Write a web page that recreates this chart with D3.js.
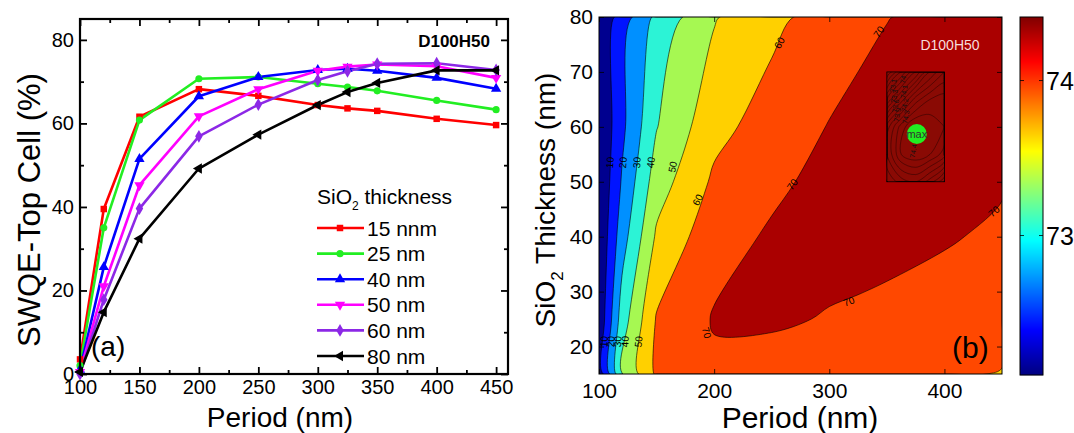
<!DOCTYPE html>
<html>
<head>
<meta charset="utf-8">
<script src="https://cdn.jsdelivr.net/npm/d3@7"></script>
<style>
  body { margin: 0; background: #fff; }
  svg { display: block; font-family: "Liberation Sans", Arial, sans-serif; }
</style>
</head>
<body>
<svg id="fig" width="1074" height="433"></svg>
<script>
// Grating period (nm), shared by both panels
const periods = [100, 120, 150, 200, 250, 300, 325, 350, 400, 450];
// SiO2 thickness of each simulated series (nm)
const thicknesses = [15, 25, 40, 50, 60, 80];
const seriesNames = ["15 nnm", "25 nm", "40 nm", "50 nm", "60 nm", "80 nm"];
// SWQE of the top cell (%), one value per period
const swqe15 = [3.5, 39.5, 61.6, 68.2, 66.6, 64.4, 63.6, 63.0, 61.1, 59.6];
const swqe25 = [2.0, 35.0, 60.8, 70.7, 71.1, 69.5, 68.7, 67.8, 65.5, 63.3];
const swqe40 = [1.0, 25.6, 51.5, 66.5, 71.1, 72.8, 73.1, 72.6, 70.9, 68.3];
const swqe50 = [0.5, 21.0, 45.2, 61.7, 68.2, 72.6, 73.6, 74.1, 73.7, 70.9];
const swqe60 = [0.0, 17.8, 39.6, 56.9, 64.5, 70.4, 72.5, 74.3, 74.4, 72.8];
const swqe80 = [0.5, 14.8, 32.4, 49.2, 57.3, 64.4, 67.5, 69.7, 72.7, 72.7];
const seriesValues = [swqe15, swqe25, swqe40, swqe50, swqe60, swqe80];

// Tick values
const xTicksA = [100, 150, 200, 250, 300, 350, 400, 450];
const yTicksA = [0, 20, 40, 60, 80];
const xTicksB = [100, 200, 300, 400];
const yTicksB = [20, 30, 40, 50, 60, 70, 80];
const colorbarTicks = [73, 74];

// Contour levels of the map
const levels = [10, 20, 30, 40, 50, 60, 70];

// Fine map of the optimum region (period x thickness)
const insetPeriods = [350, 362.5, 375, 387.5, 400];
const insetThicknesses = [50, 55, 60, 65, 70];
const inset50 = [73.80, 73.95, 74.00, 73.85, 73.60];
const inset55 = [74.00, 74.30, 74.38, 74.30, 74.15];
const inset60 = [73.95, 74.25, 74.42, 74.38, 74.30];
const inset65 = [73.40, 73.75, 74.05, 74.20, 74.25];
const inset70 = [72.90, 73.20, 73.50, 73.80, 74.00];
const insetLevels = d3.range(72.9, 74.45, 0.1).map(v => +v.toFixed(2));
const maxPoint = { period: 376, thickness: 58.7 };
const colorbarDomain = [72.1, 74.41];

// Contour labels: level, period, thickness, text angle
const contourLabels = [
  [10, 109.5, 53.5, -85], [20, 120.8, 53.5, -85], [30, 132.9, 53.5, -85],
  [40, 145, 53.5, -82], [50, 164, 52.7, -78],
  [10, 104.3, 20.9, -88], [20, 110.4, 20.9, -88], [30, 116.2, 20.9, -88],
  [40, 122.6, 20.9, -86], [50, 134.4, 20.9, -85],
  [60, 256.7, 75.3, -60], [60, 185.7, 46.7, -62],
  [70, 343, 77.3, -55], [70, 268, 49.5, -55], [70, 193.5, 22.5, 75],
  [70, 317, 28.2, -22], [70, 443, 44.6, -40]
];
const insetLabels = [
  ["73.1", 355.5, 67.5], ["73.3", 356.5, 65.6], ["73.6", 357.5, 63.8],
  ["73.9", 359, 62.2], ["74", 364, 68.6], ["74.1", 365, 66.4],
  ["74.2", 365.5, 64.0], ["74.3", 366.5, 61.8], ["74.4", 373, 55.6]
];

const colors = ["#ff0000", "#22ee22", "#0000ff", "#ff00ff", "#8c28e6", "#000000"];
const symbols = [
  { type: d3.symbolSquare, size: 42, rot: 0 },
  { type: d3.symbolCircle, size: 40, rot: 0 },
  { type: d3.symbolTriangle, size: 46, rot: 0 },
  { type: d3.symbolTriangle, size: 46, rot: 180 },
  { type: d3.symbolDiamond, size: 48, rot: 0 },
  { type: d3.symbolTriangle, size: 46, rot: -90 }
];
const bandColors = ["#00008f", "#0014ff", "#0090ff", "#2cf3d6", "#a6f852",
                    "#ffd000", "#ff4800", "#aa0000"];

const svg = d3.select("#fig");
const FONT = '"Liberation Sans", Arial, sans-serif';

function styleAxis(g, size) {
  g.attr("font-family", FONT).attr("font-size", size);
  g.select(".domain").remove();
  g.selectAll("text").attr("fill", "#000");
}

/* ---------------- Panel (a): line chart ---------------- */
const xA = d3.scaleLinear().domain([100, 460]).range([80, 508]);
const yA = d3.scaleLinear().domain([0, 85]).range([374, 19]);
const gA = svg.append("g");

const line = d3.line().x((d, i) => xA(periods[i])).y(d => yA(d));
seriesValues.forEach((vals, k) => {
  gA.append("path").datum(vals)
    .attr("d", line)
    .attr("fill", "none")
    .attr("stroke", colors[k])
    .attr("stroke-width", 2.6)
    .attr("stroke-linejoin", "round");
});
seriesValues.forEach((vals, k) => {
  const sym = d3.symbol().type(symbols[k].type).size(symbols[k].size);
  gA.append("g").selectAll("path").data(vals).join("path")
    .attr("d", sym)
    .attr("transform", (d, i) => `translate(${xA(periods[i])},${yA(d)}) rotate(${symbols[k].rot})`)
    .attr("fill", colors[k]);
});

// axes with inward ticks on all four sides
const xMinorA = d3.range(125, 451, 50);
const yMinorA = d3.range(10, 81, 20);
function ticksA() {
  const b = gA.append("g").attr("transform", `translate(0,${yA(0)})`)
    .call(d3.axisBottom(xA).tickValues(xTicksA).tickSize(-7).tickPadding(6).tickFormat(d3.format("d")));
  styleAxis(b, 20);
  const bm = gA.append("g").attr("transform", `translate(0,${yA(0)})`)
    .call(d3.axisBottom(xA).tickValues(xMinorA).tickSize(-4).tickFormat(""));
  styleAxis(bm, 20);
  const t = gA.append("g").attr("transform", `translate(0,${yA(85)})`)
    .call(d3.axisTop(xA).tickValues(xTicksA).tickSize(-7).tickFormat(""));
  styleAxis(t, 20);
  const tm = gA.append("g").attr("transform", `translate(0,${yA(85)})`)
    .call(d3.axisTop(xA).tickValues(xMinorA).tickSize(-4).tickFormat(""));
  styleAxis(tm, 20);
  const l = gA.append("g").attr("transform", `translate(${xA(100)},0)`)
    .call(d3.axisLeft(yA).tickValues(yTicksA).tickSize(-7).tickPadding(6));
  styleAxis(l, 20);
  const lm = gA.append("g").attr("transform", `translate(${xA(100)},0)`)
    .call(d3.axisLeft(yA).tickValues(yMinorA).tickSize(-4).tickFormat(""));
  styleAxis(lm, 20);
  const r = gA.append("g").attr("transform", `translate(${xA(460)},0)`)
    .call(d3.axisRight(yA).tickValues(yTicksA).tickSize(-7).tickFormat(""));
  styleAxis(r, 20);
  const rm = gA.append("g").attr("transform", `translate(${xA(460)},0)`)
    .call(d3.axisRight(yA).tickValues(yMinorA).tickSize(-4).tickFormat(""));
  styleAxis(rm, 20);
  gA.selectAll(".tick line").attr("stroke", "#000").attr("stroke-width", 1.8);
}
ticksA();
gA.append("rect")
  .attr("x", xA(100)).attr("y", yA(85))
  .attr("width", xA(460) - xA(100)).attr("height", yA(0) - yA(85))
  .attr("fill", "none").attr("stroke", "#000").attr("stroke-width", 2.2);

gA.append("text").attr("x", 490).attr("y", 47)
  .attr("text-anchor", "end").attr("font-weight", "bold").attr("font-size", 17)
  .text("D100H50");
gA.append("text").attr("x", 91).attr("y", 356).attr("font-size", 28).text("(a)");

// legend
const leg = gA.append("g").attr("font-size", 21);
const legTitle = leg.append("text").attr("x", 317).attr("y", 204);
legTitle.append("tspan").text("SiO");
legTitle.append("tspan").attr("font-size", 12).attr("dy", 6).text("2");
legTitle.append("tspan").attr("dy", -6).text(" thickness");
seriesNames.forEach((name, k) => {
  const yy = 228 + k * 25.6;
  leg.append("line").attr("x1", 317).attr("x2", 364).attr("y1", yy).attr("y2", yy)
    .attr("stroke", colors[k]).attr("stroke-width", 2.6);
  leg.append("path")
    .attr("d", d3.symbol().type(symbols[k].type).size(symbols[k].size))
    .attr("transform", `translate(340,${yy}) rotate(${symbols[k].rot})`)
    .attr("fill", colors[k]);
  leg.append("text").attr("x", 367).attr("y", yy).attr("dy", "0.36em").text(name);
});

gA.append("text")
  .attr("transform", "translate(40,210) rotate(-90)")
  .attr("text-anchor", "middle").attr("font-size", 31)
  .text("SWQE-Top Cell (%)");
gA.append("text").attr("x", 280).attr("y", 427)
  .attr("text-anchor", "middle").attr("font-size", 28).text("Period (nm)");

/* ---------------- Panel (b): filled contour map ---------------- */
const xB = d3.scaleLinear().domain([100, 450]).range([599, 1002]);
const yB = d3.scaleLinear().domain([15, 80]).range([374, 17]);
const gB = svg.append("g");

svg.append("defs").append("clipPath").attr("id", "clipB")
  .append("rect").attr("x", xB(100)).attr("y", yB(80))
  .attr("width", xB(450) - xB(100)).attr("height", yB(15) - yB(80));

// Contour rings drawn as smooth closed curves through the marching-squares vertices
const ringLine = d3.line().curve(d3.curveCatmullRomClosed.alpha(0.5));
function contourPath(geom, toPx) {
  return geom.coordinates.map(poly => poly.map(ring => {
    const pts = [];
    ring.slice(0, -1).forEach(c => {
      const p = toPx(c);
      const last = pts[pts.length - 1];
      if (!last || Math.abs(last[0] - p[0]) > 0.05 || Math.abs(last[1] - p[1]) > 0.05) pts.push(p);
    });
    return pts.length > 2 ? ringLine(pts) : "";
  }).join("")).join("");
}

// grid index -> period / thickness (values sit at index + 0.5)
const colToPeriod = d3.scaleLinear().domain(periods.map((_, i) => i + 0.5)).range(periods).clamp(true);
const rowToThick = d3.scaleLinear().domain(thicknesses.map((_, i) => i + 0.5)).range(thicknesses).clamp(true);
const toPxB = c => [xB(colToPeriod(c[0])), yB(rowToThick(c[1]))];

const gridValues = seriesValues.flat();
const bands = d3.contours()
  .size([periods.length, thicknesses.length])
  .thresholds(levels)(gridValues);

const mapG = gB.append("g").attr("clip-path", "url(#clipB)");
mapG.append("rect")
  .attr("x", xB(100)).attr("y", yB(80))
  .attr("width", xB(450) - xB(100)).attr("height", yB(15) - yB(80))
  .attr("fill", bandColors[0]);
mapG.selectAll("path.band").data(bands).join("path")
  .attr("class", "band")
  .attr("d", d => contourPath(d, toPxB))
  .attr("fill", (d, i) => bandColors[i + 1])
  .attr("fill-rule", "evenodd")
  .attr("stroke", "#000").attr("stroke-width", 0.7).attr("stroke-opacity", 0.85);

// zoomed region around the optimum
const iColToPeriod = d3.scaleLinear().domain(insetPeriods.map((_, i) => i + 0.5)).range(insetPeriods).clamp(true);
const iRowToThick = d3.scaleLinear().domain(insetThicknesses.map((_, i) => i + 0.5)).range(insetThicknesses).clamp(true);
const toPxI = c => [xB(iColToPeriod(c[0])), yB(iRowToThick(c[1]))];
const insetGrid = [inset50, inset55, inset60, inset65, inset70].flat();
const insetBands = d3.contours()
  .size([insetPeriods.length, insetThicknesses.length])
  .thresholds(insetLevels)(insetGrid);

svg.select("defs").append("clipPath").attr("id", "clipI")
  .append("rect").attr("x", xB(350)).attr("y", yB(70))
  .attr("width", xB(400) - xB(350)).attr("height", yB(50) - yB(70));
const insetG = mapG.append("g");
insetG.append("rect")
  .attr("x", xB(350)).attr("y", yB(70))
  .attr("width", xB(400) - xB(350)).attr("height", yB(50) - yB(70))
  .attr("fill", "#8a0a04");
insetG.append("g").attr("clip-path", "url(#clipI)")
  .selectAll("path").data(insetBands).join("path")
  .attr("d", d => contourPath(d, toPxI))
  .attr("fill", "none")
  .attr("stroke", "#1a0000").attr("stroke-width", 0.6).attr("stroke-opacity", 0.75);
insetG.append("rect")
  .attr("x", xB(350)).attr("y", yB(70))
  .attr("width", xB(400) - xB(350)).attr("height", yB(50) - yB(70))
  .attr("fill", "none").attr("stroke", "#000").attr("stroke-width", 0.8);
insetG.selectAll("text").data(insetLabels).join("text")
  .attr("transform", d => `translate(${xB(d[1])},${yB(d[2])}) rotate(-80)`)
  .attr("text-anchor", "middle").attr("dy", "0.35em")
  .attr("font-size", 7).attr("fill", "#111")
  .text(d => d[0]);
insetG.append("circle")
  .attr("cx", xB(maxPoint.period)).attr("cy", yB(maxPoint.thickness)).attr("r", 10)
  .attr("fill", "#22ee22");
insetG.append("text")
  .attr("x", xB(maxPoint.period)).attr("y", yB(maxPoint.thickness)).attr("dy", "0.35em")
  .attr("text-anchor", "middle").attr("font-size", 11).attr("fill", "#333")
  .text("max");

// contour labels
mapG.append("g").selectAll("text").data(contourLabels).join("text")
  .attr("transform", d => `translate(${xB(d[1])},${yB(d[2])}) rotate(${d[3]})`)
  .attr("text-anchor", "middle").attr("dy", "0.35em")
  .attr("font-size", 10).attr("fill", "#000")
  .text(d => d[0]);

mapG.append("text").attr("x", 950).attr("y", 45).attr("dy", "0.35em")
  .attr("text-anchor", "middle").attr("font-size", 14).attr("fill", "#f6dcdc")
  .text("D100H50");
gB.append("text").attr("x", 952).attr("y", 358).attr("font-size", 30).text("(b)");

// axes, inward ticks
function ticksB() {
  const b = gB.append("g").attr("transform", `translate(0,${yB(15)})`)
    .call(d3.axisBottom(xB).tickValues(xTicksB).tickSize(-5).tickPadding(9));
  styleAxis(b, 21);
  const t = gB.append("g").attr("transform", `translate(0,${yB(80)})`)
    .call(d3.axisTop(xB).tickValues(xTicksB).tickSize(-5).tickFormat(""));
  styleAxis(t, 21);
  const l = gB.append("g").attr("transform", `translate(${xB(100)},0)`)
    .call(d3.axisLeft(yB).tickValues(yTicksB).tickSize(-5).tickPadding(6));
  styleAxis(l, 21);
  const r = gB.append("g").attr("transform", `translate(${xB(450)},0)`)
    .call(d3.axisRight(yB).tickValues(yTicksB).tickSize(-5).tickFormat(""));
  styleAxis(r, 21);
  gB.selectAll(".tick line").attr("stroke", "#000").attr("stroke-width", 0.8);
}
ticksB();
gB.append("rect")
  .attr("x", xB(100)).attr("y", yB(80))
  .attr("width", xB(450) - xB(100)).attr("height", yB(15) - yB(80))
  .attr("fill", "none").attr("stroke", "#000").attr("stroke-width", 1);

const yLabB = gB.append("text")
  .attr("transform", "translate(555,200) rotate(-90)")
  .attr("text-anchor", "middle").attr("font-size", 28);
yLabB.append("tspan").text("SiO");
yLabB.append("tspan").attr("font-size", 17).attr("dy", 8).text("2");
yLabB.append("tspan").attr("dy", -8).text(" Thickness (nm)");
gB.append("text").attr("x", 800).attr("y", 428)
  .attr("text-anchor", "middle").attr("font-size", 30).text("Period (nm)");

/* ---------------- colorbar ---------------- */
const jet = d3.scaleLinear()
  .domain([0, 0.125, 0.375, 0.625, 0.875, 1])
  .range(["#000080", "#0000ff", "#00ffff", "#ffff00", "#ff0000", "#800000"]);
const cb = d3.scaleLinear().domain(colorbarDomain).range([375, 17]);
const cbNorm = d3.scaleLinear().domain(colorbarDomain).range([0, 1]);
const cbG = svg.append("g");
const rows = d3.range(Math.round(cb.range()[1]), Math.round(cb.range()[0]));
cbG.selectAll("rect").data(rows).join("rect")
  .attr("x", 1020).attr("y", d => d).attr("width", 23).attr("height", 1.2)
  .attr("fill", d => jet(cbNorm(cb.invert(d + 0.5))));
cbG.append("rect").attr("x", 1020).attr("y", 17).attr("width", 23).attr("height", 358)
  .attr("fill", "none").attr("stroke", "#000").attr("stroke-width", 1);
colorbarTicks.forEach(v => {
  cbG.append("line").attr("x1", 1020).attr("x2", 1024).attr("y1", cb(v)).attr("y2", cb(v))
    .attr("stroke", "#000").attr("stroke-width", 0.8);
  cbG.append("line").attr("x1", 1043).attr("x2", 1039).attr("y1", cb(v)).attr("y2", cb(v))
    .attr("stroke", "#000").attr("stroke-width", 0.8);
  cbG.append("text").attr("x", 1046).attr("y", cb(v)).attr("dy", "0.36em")
    .attr("font-size", 25).text(v);
});
</script>
</body>
</html>
